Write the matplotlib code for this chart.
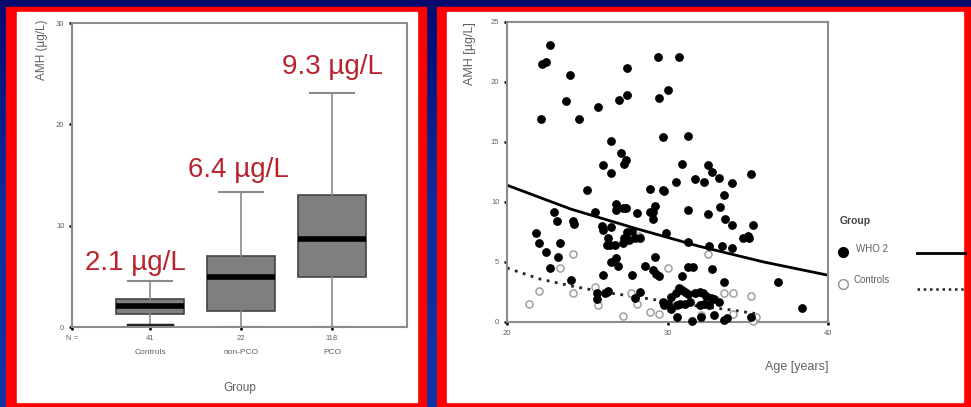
import numpy as np
import matplotlib
matplotlib.use("Agg")
import matplotlib.pyplot as plt
import matplotlib.transforms as mtransforms
from matplotlib.patches import Rectangle
from matplotlib.lines import Line2D

plt.rcParams['font.family'] = ['Liberation Sans', 'DejaVu Sans']

# ---- data: box plot (left) ----
groups = ["Controls", "non-PCO", "PCO"]
counts = ["41", "22", "118"]
q1 = [1.3, 1.6, 4.9]
medians = [2.1, 4.9, 8.7]
q3 = [2.8, 7.0, 13.0]
whisk_lo = [0.15, 0.0, 0.0]
whisk_hi = [4.5, 13.3, 23.1]
median_notes = ["2.1 µg/L", "6.4 µg/L", "9.3 µg/L"]
note_y = [6.3, 15.5, 25.7]
note_x = [0.84, 1.97, 3.0]

# ---- data: scatter (right) ----
who2_age = [22.7, 22.2, 22.4, 23.9, 23.7, 22.1, 24.5, 25.7, 27.0, 27.5, 27.5, 29.4, 30.7, 29.5, 30.0,
            29.7, 31.3, 26.5, 26.0, 26.5, 27.1, 27.4, 27.3, 25.0, 28.9, 29.7, 29.8, 30.5, 30.9, 31.7,
            32.3, 32.5, 32.8, 33.2, 34.0, 35.2, 33.5, 33.3, 33.6, 34.0, 35.3, 35.0, 35.1, 34.7, 34.0,
            33.4, 32.6, 32.5, 31.3, 31.3, 29.9, 29.2, 29.1, 28.9, 29.1, 28.1, 26.8, 27.2, 27.4, 26.8,
            25.5, 25.9, 26.0, 26.5, 26.3, 26.2, 26.4, 26.7, 27.3, 27.2, 27.6, 27.5, 27.8, 28.0, 28.3,
            22.9, 23.1, 24.1, 24.2, 21.8, 22.0, 22.4, 23.3, 23.2, 22.7, 24.0, 26.5, 26.8, 26.9, 26.0,
            25.6, 25.6, 26.1, 26.2, 26.3, 27.8, 28.6, 29.2, 29.1, 29.3, 29.5, 28.3, 28.0, 30.9, 31.3,
            31.6, 32.8, 33.5, 36.9, 38.4, 29.7, 30.0, 30.2, 30.5, 30.7, 30.9, 31.1, 31.3, 31.7, 32.0,
            32.2, 32.4, 32.7, 32.9, 33.2, 30.6, 30.8, 31.1, 31.4, 32.0, 32.3, 32.6, 30.2, 30.6, 31.5,
            32.1, 32.9, 33.5, 29.8, 35.2, 33.7]
who2_amh = [23.1, 21.5, 21.7, 20.6, 18.4, 16.9, 16.9, 17.9, 18.5, 18.9, 21.2, 22.1, 22.1, 18.7, 19.3,
            15.4, 15.5, 15.1, 13.1, 12.4, 14.1, 13.5, 13.2, 11.0, 11.1, 11.0, 10.9, 11.7, 13.2, 11.9,
            11.7, 13.1, 12.5, 12.0, 11.6, 12.3, 10.6, 9.6, 8.6, 8.1, 8.1, 7.2, 7.0, 7.0, 6.2,
            6.3, 6.3, 9.0, 9.3, 6.7, 7.4, 9.7, 9.2, 9.2, 8.6, 9.1, 9.8, 9.5, 9.5, 9.3,
            9.2, 8.0, 7.7, 7.9, 7.0, 6.4, 6.4, 6.4, 7.0, 6.6, 6.8, 7.5, 7.6, 7.0, 7.0,
            9.2, 8.4, 8.4, 8.2, 7.4, 6.6, 5.8, 6.6, 5.4, 4.5, 3.5, 5.0, 5.3, 4.7, 3.9,
            1.9, 2.4, 2.4, 2.5, 2.6, 3.9, 4.7, 5.4, 4.3, 4.0, 3.8, 2.5, 2.0, 3.8, 4.6,
            4.6, 4.4, 3.3, 3.3, 1.2, 1.7, 1.5, 2.1, 2.4, 2.8, 2.7, 2.5, 2.3, 2.4, 2.5,
            2.4, 2.2, 2.0, 1.9, 1.7, 1.4, 1.5, 1.5, 1.7, 1.4, 1.5, 1.4, 1.1, 0.4, 0.1,
            0.4, 0.6, 0.2, 1.4, 0.4, 0.3]
ctrl_age = [21.4, 22.0, 23.3, 24.1, 24.1, 25.5, 25.7, 27.2, 27.7, 28.1, 28.9, 29.5, 30.0, 31.8,
            32.1, 32.5, 33.5, 34.1, 35.2, 34.1, 35.5, 35.3, 28.2, 30.2]
ctrl_amh = [1.5, 2.6, 4.5, 5.7, 2.4, 2.9, 1.4, 0.5, 2.4, 1.5, 0.8, 0.7, 4.5, 2.4,
            0.6, 5.7, 2.4, 2.4, 2.2, 0.7, 0.4, 0.1, 7.2, 1.4]

fit_age = [20, 24, 28, 32, 36, 40]
fit_who2 = [11.4, 9.4, 7.8, 6.3, 5.0, 3.9]
fit_ctrl_age = [20, 22, 24, 26, 28, 30, 32, 34, 35.5]
fit_ctrl = [4.5, 3.6, 3.0, 2.5, 2.1, 1.7, 1.3, 1.0, 0.7]

W, H = 971, 407
fig = plt.figure(figsize=(W / 100, H / 100), dpi=100)


def rect(x0, y0, x1, y1):
    # pixel box (top-left origin) -> figure fraction
    return (x0 / W, 1 - y1 / H, (x1 - x0) / W, (y1 - y0) / H)


# gradient background
bg = fig.add_axes([0, 0, 1, 1], zorder=-5)
grad = np.linspace(0, 1, 256).reshape(-1, 1)
cmap = matplotlib.colors.LinearSegmentedColormap.from_list("bg", ["#000a6e", "#0a2f9e", "#0b35a8"])
bg.imshow(grad, aspect="auto", cmap=cmap, extent=[0, 1, 0, 1], origin="upper")
bg.axis("off")

for outer, inner in [((6, 7, 426, 407), (17, 12, 417, 402)),
                     ((437, 7, 971, 407), (447, 12, 963, 402))]:
    x, y, w, h = rect(*outer)
    fig.add_artist(Rectangle((x, y), w, h, transform=fig.transFigure, color="#ff0000", zorder=-4))
    x, y, w, h = rect(*inner)
    fig.add_artist(Rectangle((x, y), w, h, transform=fig.transFigure, color="white", zorder=-3))

grey = "#606060"
spine_c = "#8c8c8c"

# ---- left: box plot ----
ax1 = fig.add_axes(rect(72, 23, 407, 327))
stats = [dict(med=m, q1=a, q3=b, whislo=lo, whishi=hi, fliers=[])
         for m, a, b, lo, hi in zip(medians, q1, q3, whisk_lo, whisk_hi)]
bp = ax1.bxp(stats, positions=[1, 2, 3], widths=0.75, capwidths=0.48, patch_artist=True,
             boxprops=dict(facecolor="#7f7f7f", edgecolor="#444444", linewidth=1.2),
             medianprops=dict(color="black", linewidth=4, solid_capstyle="butt"),
             whiskerprops=dict(color="#8a8a8a", linewidth=1.2),
             capprops=dict(color="#8a8a8a", linewidth=1.5))
bp["caps"][0].set_color("#222222")
bp["caps"][0].set_linewidth(2.5)
ax1.set_xlim(0.143, 3.824)
ax1.set_ylim(0, 30)
ax1.set_yticks([0, 10, 20, 30])
ax1.set_xticks([0.143, 1, 2, 3])
ax1.set_xticklabels(["N ="] + counts)
for i, (g, t) in enumerate(zip(groups, median_notes)):
    ax1.text(i + 1, -0.085, g, transform=mtransforms.blended_transform_factory(ax1.transData, ax1.transAxes),
             ha="center", va="center", fontsize=6, color=grey)
    ax1.text(note_x[i], note_y[i], t, ha="center", va="center", fontsize=20, color="#b8232e",
             clip_on=False)
ax1.text(0.5, -0.2, "Group", transform=ax1.transAxes, ha="center", va="center", fontsize=8.5, color=grey)
ax1.text(-0.09, 1.01, "AMH (µg/L)", transform=ax1.transAxes, rotation=90, ha="center", va="top",
         fontsize=8.5, color=grey)

# ---- right: scatter ----
ax2 = fig.add_axes(rect(507, 22, 828, 322))
ax2.plot(fit_age, fit_who2, color="black", lw=2)
ax2.plot(fit_ctrl_age, fit_ctrl, color="#222222", lw=2, linestyle=(0, (1, 2)))
ax2.scatter(ctrl_age, ctrl_amh, s=26, facecolors="white", edgecolors="#a0a0a0", linewidths=1.1,
            clip_on=False, zorder=3)
ax2.scatter(who2_age, who2_amh, s=28, color="black", clip_on=False, zorder=4)
ax2.set_xlim(20, 40)
ax2.set_ylim(0, 25)
ax2.set_xticks([20, 30, 40])
ax2.set_yticks([0, 5, 10, 15, 20, 25])
ax2.text(1.0, -0.15, "Age [years]", transform=ax2.transAxes, ha="right", va="center",
         fontsize=9, color=grey)
ax2.text(-0.115, 1.0, "AMH [µg/L]", transform=ax2.transAxes, rotation=90, ha="center", va="top",
         fontsize=9, color=grey)

for ax in (ax1, ax2):
    for s in ax.spines.values():
        s.set_color(spine_c)
        s.set_linewidth(1.5)
    ax.tick_params(length=2.5, width=1.8, color="black", labelsize=5.5, labelcolor=grey, pad=3)

# legend drawn by hand to the right of the scatter
fig.text(840 / W, 1 - 221 / H, "Group", fontsize=7.5, fontweight="bold", color="#444444", va="center")
fig.add_artist(Line2D([843 / W], [1 - 252 / H], marker="o", markersize=7, color="black",
                      transform=fig.transFigure))
fig.add_artist(Line2D([843 / W], [1 - 284 / H], marker="o", markersize=7, markerfacecolor="white",
                      markeredgecolor="#9a9a9a", markeredgewidth=1.1, transform=fig.transFigure))
fig.text(856 / W, 1 - 249 / H, "WHO 2", fontsize=7, color=grey, va="center")
fig.text(853 / W, 1 - 280 / H, "Controls", fontsize=7, color=grey, va="center")
fig.add_artist(Line2D([917 / W, 965 / W], [1 - 253 / H] * 2, color="black", lw=2,
                      transform=fig.transFigure))
fig.add_artist(Line2D([917 / W, 965 / W], [1 - 289 / H] * 2, color="#222222", lw=1.8,
                      linestyle=(0, (1, 1.5)), transform=fig.transFigure))

fig.savefig("out.png", dpi=100)
